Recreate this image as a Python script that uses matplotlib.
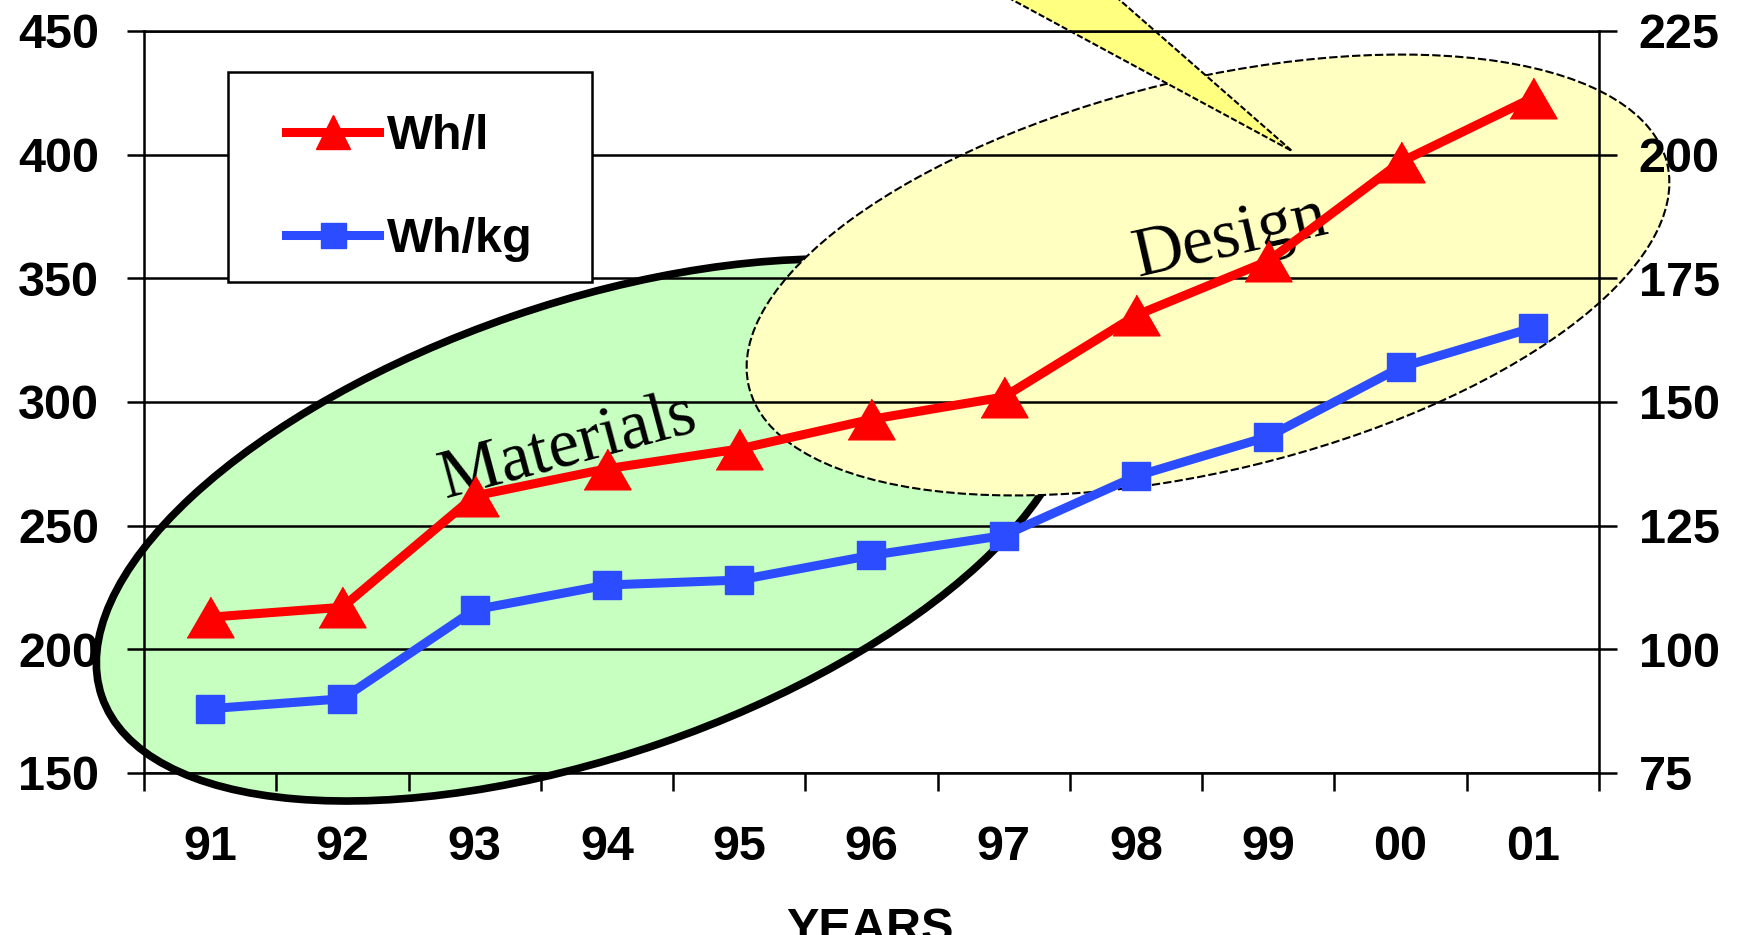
import matplotlib
matplotlib.use("Agg")
import numpy as np
import matplotlib.pyplot as plt
import matplotlib.transforms as mtransforms
from matplotlib.patches import Ellipse, Polygon, Rectangle
from matplotlib.lines import Line2D
from matplotlib.legend_handler import HandlerLine2D

# ---- data -------------------------------------------------------------
years = ["91", "92", "93", "94", "95", "96", "97", "98", "99", "00", "01"]
wh_per_l = [213, 217, 262, 273, 281, 293, 302, 335, 357, 397, 423]
wh_per_kg = [88, 90, 108, 113, 114, 119, 123, 135, 143, 157, 165]
left_ticks = [150, 200, 250, 300, 350, 400, 450]
right_ticks = [75, 100, 125, 150, 175, 200, 225]
series_labels = ["Wh/l", "Wh/kg"]

# ---- style ------------------------------------------------------------
plt.rcParams["font.family"] = ["Liberation Sans", "DejaVu Sans"]
RED = "#FF0000"
BLUE = "#2B4CFF"
GREEN_FILL = "#C6FFC0"
YELLOW_FILL = "#FFFFC2"
CALLOUT_FILL = "#FFFF80"
LW_AX = 1.8
TICK_LEN = 12.6
FS = 35

W, H, DPI = 1761, 935, 100
fig = plt.figure(figsize=(W / DPI, H / DPI), dpi=DPI)
fig.patch.set_facecolor("white")

x_left, x_right = 144, 1599
y_top, y_bot = 30.9, 773
ax = fig.add_axes([x_left / W, 1 - y_bot / H, (x_right - x_left) / W, (y_bot - y_top) / H])
ax.set_facecolor("none")
ax.set_axisbelow(True)
ax2 = ax.twinx()

x = np.arange(len(years))
ax.set_xlim(-0.5, len(years) - 0.5)
ax.set_ylim(left_ticks[0], left_ticks[-1])
ax2.set_ylim(right_ticks[0], right_ticks[-1])

# pixel-space transform for the annotation shapes (origin bottom-left)
px = mtransforms.Affine2D().scale(1 / W, 1 / H) + fig.transFigure


def P(xp, yp):
    return (xp, H - yp)


# "Materials" and "Design" regions
green = Ellipse(P(586, 530), 1024, 452, angle=19, transform=px,
                facecolor=GREEN_FILL, edgecolor="black", lw=5.5,
                zorder=0.1, clip_on=False)
ax.add_patch(green)
yellow = Ellipse(P(1208, 275), 945, 391, angle=13.7, transform=px,
                 facecolor=YELLOW_FILL, edgecolor="black", lw=1.5,
                 linestyle=(0, (4, 1.5)), zorder=0.2, clip_on=False)
ax.add_patch(yellow)

# callout pointer coming down from above the chart
tip = (1292, 151)
left_top = (1012.6 - 40 / 0.5405, -40)
right_top = (1119.7 - 40 / 0.876, -40)
callout = Polygon([P(*left_top), P(*tip), P(*right_top)], closed=True,
                  transform=px, facecolor=CALLOUT_FILL, edgecolor="black",
                  lw=1.5, linestyle=(0, (3, 1.2)), zorder=0.3, clip_on=False)
ax.add_patch(callout)

ax.text(*P(573, 465), "Materials", transform=px, rotation=15,
        rotation_mode="anchor", ha="center", va="baseline",
        fontsize=50, family="Liberation Serif", zorder=0.4, clip_on=False)
ax.text(*P(1235, 255), "Design", transform=px, rotation=12.8,
        rotation_mode="anchor", ha="center", va="baseline",
        fontsize=50, family="Liberation Serif", zorder=0.4, clip_on=False)

# ---- series -----------------------------------------------------------
tri = [(-1, -0.866), (1, -0.866), (0, 0.866)]
ax.plot(x, wh_per_l, color=RED, lw=6.5, marker=tri, ms=33.8,
        solid_joinstyle="miter", zorder=3, clip_on=False)
ax2.plot(x, wh_per_kg, color=BLUE, lw=6.5, marker="s", ms=19.5,
         solid_joinstyle="miter", zorder=3, clip_on=False)

# ---- axes styling -----------------------------------------------------
ax.yaxis.grid(True, color="black", lw=LW_AX)
ax.xaxis.grid(False)
for side in ["left", "bottom", "top"]:
    ax.spines[side].set_linewidth(LW_AX)
ax.spines["right"].set_visible(False)
for side in ["left", "bottom", "top"]:
    ax2.spines[side].set_visible(False)
ax2.spines["right"].set_linewidth(LW_AX)

ax.set_yticks(left_ticks)
ax.set_yticklabels([str(v) for v in left_ticks])
ax.tick_params(axis="y", direction="out", length=TICK_LEN, width=LW_AX,
               pad=19.8, labelsize=FS)
ax2.set_yticks(right_ticks)
ax2.set_yticklabels([str(v) for v in right_ticks])
ax2.tick_params(axis="y", direction="out", length=TICK_LEN, width=LW_AX,
                pad=15.9, labelsize=FS)

ax.set_xticks(np.arange(-0.5, len(years), 1.0))
ax.set_xticklabels([])
ax.set_xticks(x, minor=True)
ax.set_xticklabels(years, minor=True)
ax.tick_params(axis="x", which="major", direction="out", length=TICK_LEN,
               width=LW_AX)
ax.tick_params(axis="x", which="minor", length=0, pad=37.4, labelsize=FS)

for lab in ax.get_yticklabels() + ax2.get_yticklabels() + \
        ax.get_xticklabels(minor=True):
    lab.set_fontweight("bold")

fig.text(870 / W, -6.5 / H, "YEARS", ha="center", va="baseline",
         fontsize=FS, fontweight="bold")

# ---- legend -----------------------------------------------------------
handles = [
    Line2D([], [], color=RED, lw=6.5, marker="^", ms=24.5),
    Line2D([], [], color=BLUE, lw=6.5, marker="s", ms=18),
]
leg = ax2.legend(handles, series_labels, loc="upper left",
                 bbox_to_anchor=(259.6 / W, 1 - 113.6 / H),
                 bbox_transform=fig.transFigure,
                 borderaxespad=0, borderpad=0, labelspacing=1.2,
                 handlelength=2.45, handletextpad=0.18,
                 handler_map={Line2D: HandlerLine2D(xpad=0.55)},
                 prop=dict(family="Liberation Sans", weight="bold", size=FS),
                 frameon=False)
leg.set_zorder(5)
# legend box outline
legend_box = Rectangle(P(228, 282), 364, 210, transform=px,
                       facecolor="white", edgecolor="black", lw=LW_AX,
                       zorder=4, clip_on=False)
ax2.add_patch(legend_box)

fig.savefig("out.png", dpi=DPI, facecolor="white")
